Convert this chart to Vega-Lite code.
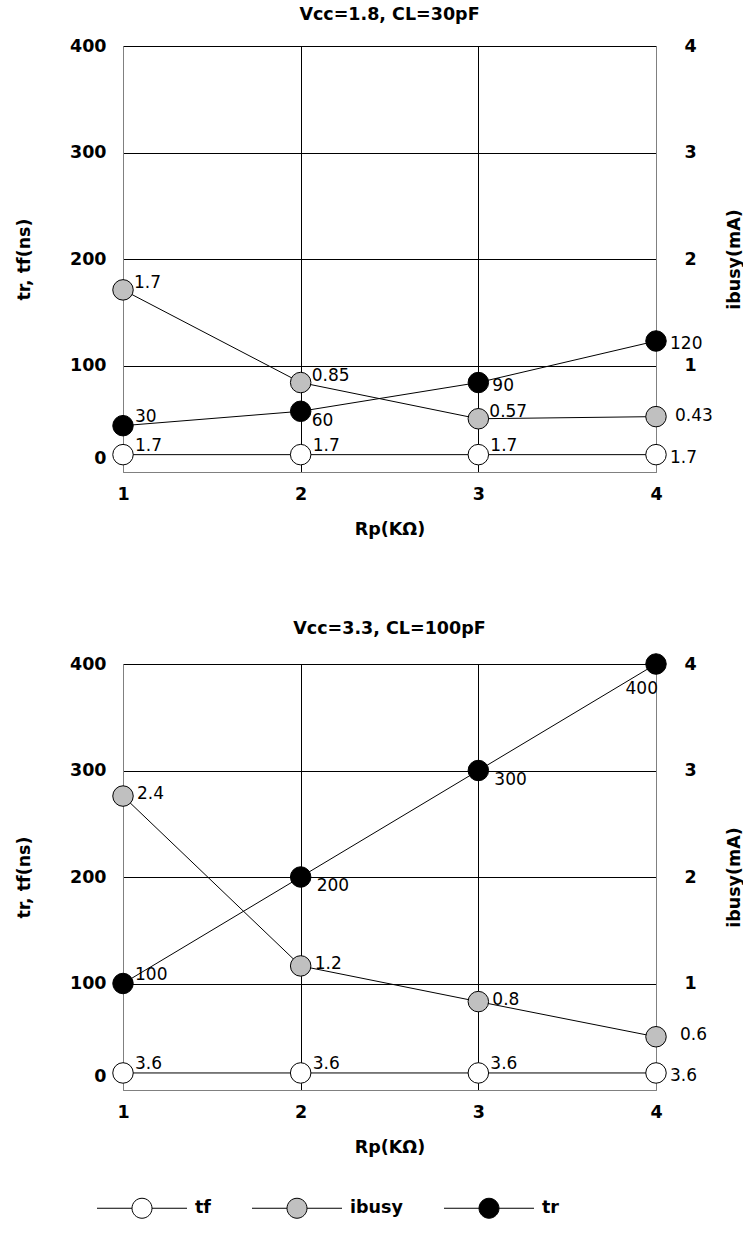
{
  "$schema": "https://vega.github.io/schema/vega-lite/v6.json",
  "padding": {"left": 15, "top": 5, "right": 0, "bottom": 0},
  "background": "white",
  "data": {
    "values": [
      {"panel": "Vcc=1.8, CL=30pF", "series": "tf", "rp": 1, "value": 16.3, "label": "1.7"},
      {"panel": "Vcc=1.8, CL=30pF", "series": "tf", "rp": 2, "value": 16.3, "label": "1.7"},
      {"panel": "Vcc=1.8, CL=30pF", "series": "tf", "rp": 3, "value": 16.3, "label": "1.7"},
      {"panel": "Vcc=1.8, CL=30pF", "series": "tf", "rp": 4, "value": 16.3, "label": "1.7"},
      {"panel": "Vcc=1.8, CL=30pF", "series": "tr", "rp": 1, "value": 43.5, "label": "30"},
      {"panel": "Vcc=1.8, CL=30pF", "series": "tr", "rp": 2, "value": 57, "label": "60"},
      {"panel": "Vcc=1.8, CL=30pF", "series": "tr", "rp": 3, "value": 84, "label": "90"},
      {"panel": "Vcc=1.8, CL=30pF", "series": "tr", "rp": 4, "value": 123, "label": "120"},
      {"panel": "Vcc=1.8, CL=30pF", "series": "ibusy", "rp": 1, "value": 1.71, "label": "1.7"},
      {"panel": "Vcc=1.8, CL=30pF", "series": "ibusy", "rp": 2, "value": 0.84, "label": "0.85"},
      {"panel": "Vcc=1.8, CL=30pF", "series": "ibusy", "rp": 3, "value": 0.5, "label": "0.57"},
      {"panel": "Vcc=1.8, CL=30pF", "series": "ibusy", "rp": 4, "value": 0.52, "label": "0.43"},
      {"panel": "Vcc=3.3, CL=100pF", "series": "tf", "rp": 1, "value": 16, "label": "3.6"},
      {"panel": "Vcc=3.3, CL=100pF", "series": "tf", "rp": 2, "value": 16, "label": "3.6"},
      {"panel": "Vcc=3.3, CL=100pF", "series": "tf", "rp": 3, "value": 16, "label": "3.6"},
      {"panel": "Vcc=3.3, CL=100pF", "series": "tf", "rp": 4, "value": 16, "label": "3.6"},
      {"panel": "Vcc=3.3, CL=100pF", "series": "tr", "rp": 1, "value": 100, "label": "100"},
      {"panel": "Vcc=3.3, CL=100pF", "series": "tr", "rp": 2, "value": 200, "label": "200"},
      {"panel": "Vcc=3.3, CL=100pF", "series": "tr", "rp": 3, "value": 300, "label": "300"},
      {"panel": "Vcc=3.3, CL=100pF", "series": "tr", "rp": 4, "value": 400, "label": "400"},
      {"panel": "Vcc=3.3, CL=100pF", "series": "ibusy", "rp": 1, "value": 2.76, "label": "2.4"},
      {"panel": "Vcc=3.3, CL=100pF", "series": "ibusy", "rp": 2, "value": 1.165, "label": "1.2"},
      {"panel": "Vcc=3.3, CL=100pF", "series": "ibusy", "rp": 3, "value": 0.83, "label": "0.8"},
      {"panel": "Vcc=3.3, CL=100pF", "series": "ibusy", "rp": 4, "value": 0.5, "label": "0.6"}
    ]
  },
  "config": {
    "view": {"stroke": null},
    "font": "DejaVu Sans",
    "axis": {
      "labelFont": "DejaVu Sans",
      "labelFontSize": 17.5,
      "labelFontWeight": "bold",
      "labelColor": "black",
      "titleFont": "DejaVu Sans",
      "titleFontSize": 17.5,
      "titleFontWeight": "bold",
      "titleColor": "black",
      "ticks": false,
      "tickSize": 0,
      "domainColor": "#808080",
      "domainWidth": 1,
      "gridOpacity": 1,
      "gridWidth": 1,
      "labelFlush": false,
      "labelOverlap": false
    },
    "title": {
      "font": "DejaVu Sans",
      "fontSize": 17.5,
      "fontWeight": "bold",
      "color": "black",
      "anchor": "middle",
      "frame": "group",
      "baseline": "alphabetic",
      "offset": 14
    },
    "legend": {
      "padding": 0
    }
  },
  "spacing": 82,
  "vconcat": [
    {
      "width": 533,
      "height": 426,
      "title": "Vcc=1.8, CL=30pF",
      "transform": [{"filter": "datum.panel === 'Vcc=1.8, CL=30pF'"}],
      "encoding": {
        "x": {
          "field": "rp", "type": "quantitative",
          "scale": {"domain": [1, 4], "nice": false, "zero": false},
          "axis": {
            "values": [1, 2, 3, 4], "format": "d", "title": "Rp(KΩ)",
            "titleY": 57, "titleBaseline": "middle", "labelPadding": 13, "grid": true,
            "gridColor": {"condition": {"test": "datum.value === 1 || datum.value === 4", "value": "#808080"}, "value": "black"}
          }
        }
      },
      "layer": [
        {
          "transform": [{"filter": "datum.series !== 'ibusy'"}],
          "encoding": {
            "y": {
              "field": "value", "type": "quantitative",
              "scale": {"domain": [0, 400], "nice": false, "zero": false},
              "axis": {
                "orient": "left", "values": [0, 100, 200, 300, 400], "title": "tr, tf(ns)",
                "titleX": -99, "titleAngle": -90, "titleBaseline": "middle", "labelPadding": 17, "grid": true,
                "gridColor": {"condition": {"test": "datum.value === 0", "value": "#808080"}, "value": "black"},
                "labelOffset": {"condition": {"test": "datum.value === 0", "value": -14}, "value": 0}
              }
            }
          },
          "layer": [
            {"mark": {"type": "line", "color": "black", "strokeWidth": 1}, "encoding": {"detail": {"field": "series"}}},
            {
              "mark": {"type": "circle", "size": 420, "stroke": "black", "strokeWidth": 1, "opacity": 1},
              "encoding": {
                "fill": {
                  "field": "series", "type": "nominal",
                  "scale": {"domain": ["tf", "ibusy", "tr"], "range": ["white", "#c0c0c0", "black"]},
                  "legend": {
                    "orient": "none", "legendX": 8.5, "legendY": 1151.5, "direction": "horizontal", "columns": 3, "title": null,
                    "symbolType": "M-4.5,0H-1A1,1,0,1,1,1,0A1,1,0,1,1,-1,0M1,0H4.5",
                    "symbolSize": 400, "symbolStrokeColor": "black", "symbolStrokeWidth": 1,
                    "labelFont": "DejaVu Sans", "labelFontSize": 17.5, "labelFontWeight": "bold", "labelColor": "black",
                    "labelOffset": 42.5, "columnPadding": 38
                  }
                }
              }
            },
            {
              "transform": [{"filter": "(datum.series === 'tf' && datum.rp < 4) || (datum.series === 'tr' && datum.rp === 1)"}],
              "mark": {"type": "text", "align": "left", "baseline": "alphabetic", "dx": 12, "dy": -4, "font": "DejaVu Sans", "fontSize": 17, "fill": "black"},
              "encoding": {"text": {"field": "label"}}
            },
            {
              "transform": [{"filter": "(datum.series === 'tf' && datum.rp === 4) || (datum.series === 'tr' && datum.rp >= 3)"}],
              "mark": {"type": "text", "align": "left", "baseline": "middle", "dx": 14, "dy": 3, "font": "DejaVu Sans", "fontSize": 17, "fill": "black"},
              "encoding": {"text": {"field": "label"}}
            },
            {
              "transform": [{"filter": "datum.series === 'tr' && datum.rp === 2"}],
              "mark": {"type": "text", "align": "left", "baseline": "top", "dx": 11, "dy": 2, "font": "DejaVu Sans", "fontSize": 17, "fill": "black"},
              "encoding": {"text": {"field": "label"}}
            }
          ]
        },
        {
          "transform": [{"filter": "datum.series === 'ibusy'"}],
          "encoding": {
            "y": {
              "field": "value", "type": "quantitative",
              "scale": {"domain": [0, 4], "nice": false, "zero": false},
              "axis": {
                "orient": "right", "values": [1, 2, 3, 4], "format": "d", "title": "ibusy(mA)",
                "titleX": 78, "titleAngle": -90, "titleBaseline": "middle", "labelPadding": 28, "grid": false
              }
            }
          },
          "layer": [
            {"mark": {"type": "line", "color": "black", "strokeWidth": 1}, "encoding": {"detail": {"field": "series"}}},
            {
              "mark": {"type": "circle", "size": 420, "stroke": "black", "strokeWidth": 1, "opacity": 1},
              "encoding": {
                "fill": {
                  "field": "series", "type": "nominal",
                  "scale": {"domain": ["tf", "ibusy", "tr"], "range": ["white", "#c0c0c0", "black"]},
                  "legend": {
                    "orient": "none", "legendX": 8.5, "legendY": 1151.5, "direction": "horizontal", "columns": 3, "title": null,
                    "symbolType": "M-4.5,0H-1A1,1,0,1,1,1,0A1,1,0,1,1,-1,0M1,0H4.5",
                    "symbolSize": 400, "symbolStrokeColor": "black", "symbolStrokeWidth": 1,
                    "labelFont": "DejaVu Sans", "labelFontSize": 17.5, "labelFontWeight": "bold", "labelColor": "black",
                    "labelOffset": 42.5, "columnPadding": 38
                  }
                }
              }
            },
            {
              "transform": [{"filter": "datum.rp < 4"}],
              "mark": {"type": "text", "align": "left", "baseline": "alphabetic", "dx": 11, "dy": -2, "font": "DejaVu Sans", "fontSize": 17, "fill": "black"},
              "encoding": {"text": {"field": "label"}}
            },
            {
              "transform": [{"filter": "datum.rp === 4"}],
              "mark": {"type": "text", "align": "left", "baseline": "middle", "dx": 19, "dy": -1, "font": "DejaVu Sans", "fontSize": 17, "fill": "black"},
              "encoding": {"text": {"field": "label"}}
            }
          ]
        }
      ],
      "resolve": {"scale": {"y": "independent"}}
    },
    {
      "width": 533,
      "height": 426,
      "title": "Vcc=3.3, CL=100pF",
      "transform": [{"filter": "datum.panel === 'Vcc=3.3, CL=100pF'"}],
      "encoding": {
        "x": {
          "field": "rp", "type": "quantitative",
          "scale": {"domain": [1, 4], "nice": false, "zero": false},
          "axis": {
            "values": [1, 2, 3, 4], "format": "d", "title": "Rp(KΩ)",
            "titleY": 57, "titleBaseline": "middle", "labelPadding": 13, "grid": true,
            "gridColor": {"condition": {"test": "datum.value === 1 || datum.value === 4", "value": "#808080"}, "value": "black"}
          }
        }
      },
      "layer": [
        {
          "transform": [{"filter": "datum.series !== 'ibusy'"}],
          "encoding": {
            "y": {
              "field": "value", "type": "quantitative",
              "scale": {"domain": [0, 400], "nice": false, "zero": false},
              "axis": {
                "orient": "left", "values": [0, 100, 200, 300, 400], "title": "tr, tf(ns)",
                "titleX": -99, "titleAngle": -90, "titleBaseline": "middle", "labelPadding": 17, "grid": true,
                "gridColor": {"condition": {"test": "datum.value === 0", "value": "#808080"}, "value": "black"},
                "labelOffset": {"condition": {"test": "datum.value === 0", "value": -14}, "value": 0}
              }
            }
          },
          "layer": [
            {"mark": {"type": "line", "color": "black", "strokeWidth": 1}, "encoding": {"detail": {"field": "series"}}},
            {
              "mark": {"type": "circle", "size": 420, "stroke": "black", "strokeWidth": 1, "opacity": 1},
              "encoding": {
                "fill": {
                  "field": "series", "type": "nominal",
                  "scale": {"domain": ["tf", "ibusy", "tr"], "range": ["white", "#c0c0c0", "black"]},
                  "legend": {
                    "orient": "none", "legendX": 8.5, "legendY": 1151.5, "direction": "horizontal", "columns": 3, "title": null,
                    "symbolType": "M-4.5,0H-1A1,1,0,1,1,1,0A1,1,0,1,1,-1,0M1,0H4.5",
                    "symbolSize": 400, "symbolStrokeColor": "black", "symbolStrokeWidth": 1,
                    "labelFont": "DejaVu Sans", "labelFontSize": 17.5, "labelFontWeight": "bold", "labelColor": "black",
                    "labelOffset": 42.5, "columnPadding": 38
                  }
                }
              }
            },
            {
              "transform": [{"filter": "(datum.series === 'tf' && datum.rp < 4) || (datum.series === 'tr' && datum.rp === 1)"}],
              "mark": {"type": "text", "align": "left", "baseline": "alphabetic", "dx": 12, "dy": -4, "font": "DejaVu Sans", "fontSize": 17, "fill": "black"},
              "encoding": {"text": {"field": "label"}}
            },
            {
              "transform": [{"filter": "datum.series === 'tf' && datum.rp === 4"}],
              "mark": {"type": "text", "align": "left", "baseline": "middle", "dx": 14, "dy": 3, "font": "DejaVu Sans", "fontSize": 17, "fill": "black"},
              "encoding": {"text": {"field": "label"}}
            },
            {
              "transform": [{"filter": "datum.series === 'tr' && (datum.rp === 2 || datum.rp === 3)"}],
              "mark": {"type": "text", "align": "left", "baseline": "top", "dx": 16, "dy": 1, "font": "DejaVu Sans", "fontSize": 17, "fill": "black"},
              "encoding": {"text": {"field": "label"}}
            },
            {
              "transform": [{"filter": "datum.series === 'tr' && datum.rp === 4"}],
              "mark": {"type": "text", "align": "right", "baseline": "top", "dx": 2, "dy": 17, "font": "DejaVu Sans", "fontSize": 17, "fill": "black"},
              "encoding": {"text": {"field": "label"}}
            }
          ]
        },
        {
          "transform": [{"filter": "datum.series === 'ibusy'"}],
          "encoding": {
            "y": {
              "field": "value", "type": "quantitative",
              "scale": {"domain": [0, 4], "nice": false, "zero": false},
              "axis": {
                "orient": "right", "values": [1, 2, 3, 4], "format": "d", "title": "ibusy(mA)",
                "titleX": 78, "titleAngle": -90, "titleBaseline": "middle", "labelPadding": 28, "grid": false
              }
            }
          },
          "layer": [
            {"mark": {"type": "line", "color": "black", "strokeWidth": 1}, "encoding": {"detail": {"field": "series"}}},
            {
              "mark": {"type": "circle", "size": 420, "stroke": "black", "strokeWidth": 1, "opacity": 1},
              "encoding": {
                "fill": {
                  "field": "series", "type": "nominal",
                  "scale": {"domain": ["tf", "ibusy", "tr"], "range": ["white", "#c0c0c0", "black"]},
                  "legend": {
                    "orient": "none", "legendX": 8.5, "legendY": 1151.5, "direction": "horizontal", "columns": 3, "title": null,
                    "symbolType": "M-4.5,0H-1A1,1,0,1,1,1,0A1,1,0,1,1,-1,0M1,0H4.5",
                    "symbolSize": 400, "symbolStrokeColor": "black", "symbolStrokeWidth": 1,
                    "labelFont": "DejaVu Sans", "labelFontSize": 17.5, "labelFontWeight": "bold", "labelColor": "black",
                    "labelOffset": 42.5, "columnPadding": 38
                  }
                }
              }
            },
            {
              "transform": [{"filter": "datum.rp < 4"}],
              "mark": {"type": "text", "align": "left", "baseline": "middle", "dx": 14, "dy": -2, "font": "DejaVu Sans", "fontSize": 17, "fill": "black"},
              "encoding": {"text": {"field": "label"}}
            },
            {
              "transform": [{"filter": "datum.rp === 4"}],
              "mark": {"type": "text", "align": "left", "baseline": "middle", "dx": 24, "dy": -2, "font": "DejaVu Sans", "fontSize": 17, "fill": "black"},
              "encoding": {"text": {"field": "label"}}
            }
          ]
        }
      ],
      "resolve": {"scale": {"y": "independent"}}
    }
  ]
}
